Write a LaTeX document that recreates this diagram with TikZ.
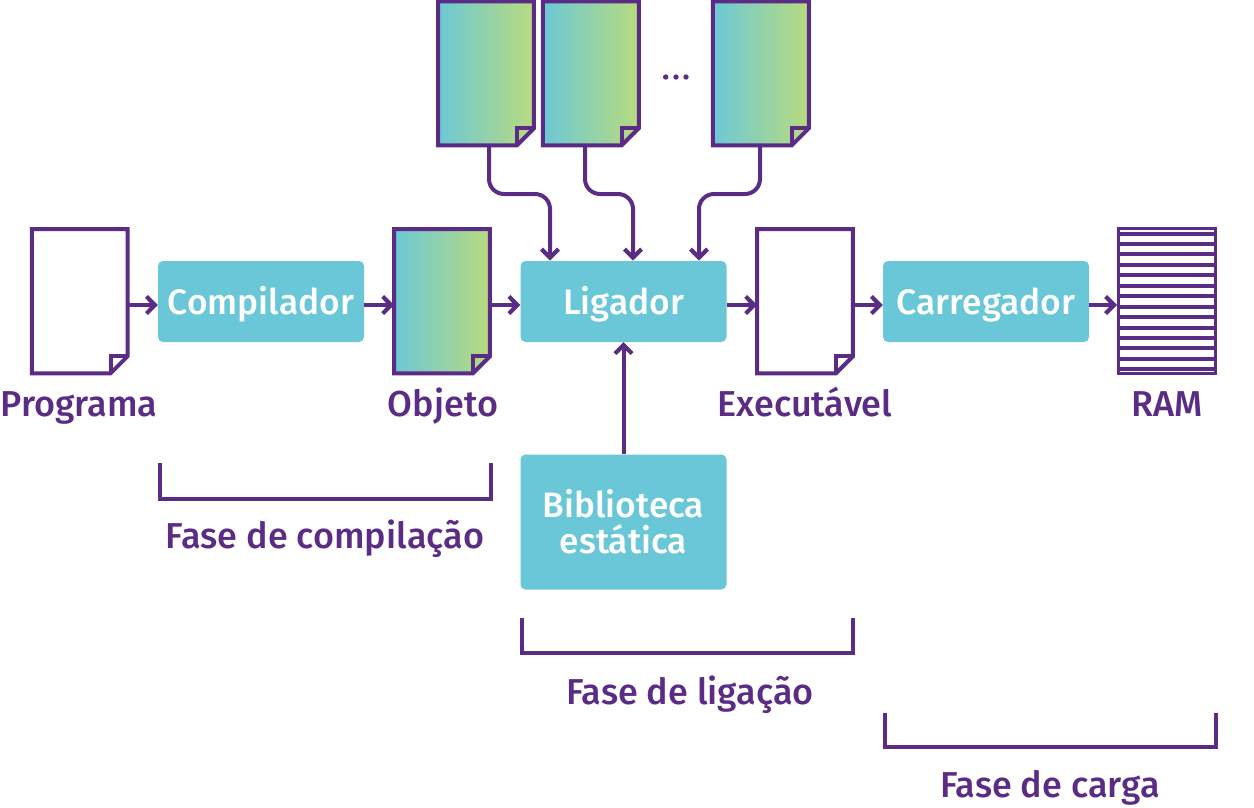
\documentclass[tikz,border=0pt]{standalone}
\usepackage{fontspec}
\setmainfont{Fira Sans Medium}
\usetikzlibrary{arrows.meta,calc}
\definecolor{pur}{HTML}{5B2C86}
\definecolor{box}{HTML}{6AC7D8}
\definecolor{gl}{HTML}{6CC8D6}
\definecolor{gr}{HTML}{B8DB7E}
\pgfdeclarearrow{
  name=Chev,
  setup code={\pgfarrowssettipend{0pt}\pgfarrowssetlineend{-2pt}\pgfarrowssetvisualbackend{-12pt}\pgfarrowssetbackend{-12pt}\pgfarrowsupperhullpoint{-12pt}{10pt}\pgfarrowshullpoint{0pt}{0pt}},
  drawing code={\pgfsetlinewidth{4.2pt}\pgfsetmiterjoin\pgfsetbuttcap\pgfsetdash{}{0pt}\pgfpathmoveto{\pgfpoint{-11.4pt}{8.6pt}}\pgfpathlineto{\pgfpoint{-2.9pt}{0pt}}\pgfpathlineto{\pgfpoint{-11.4pt}{-8.6pt}}\pgfusepathqstroke},
}
\tikzset{
  x=1pt,y=-1pt,
  line/.style={draw=pur,line width=4pt},
  conn/.style={line,-{Chev}},
  bracket/.style={draw=pur,line width=3.6pt},
  procbox/.style={fill=box,rounded corners=5pt,inner sep=0pt,text=white,align=center,font=\fontsize{35.3}{36}\selectfont},
  docframe/.style={inner sep=0pt,minimum width=95.5pt},
  label/.style={text=pur,anchor=base,inner sep=0pt,font=\fontsize{36}{38}\selectfont},
  dotmark/.style={circle,fill=pur,inner sep=0pt,minimum size=5.4pt},
}
% #1 name, #2 centre x, #3 centre y, #4 height, #5 fill options
\newcommand{\docshape}[5]{%
  \node[docframe,minimum height=#4pt] (#1) at (#2,#3) {};
  \path[#5] (#1.north west) -- (#1.north east) -- ($(#1.south east)+(0,-17)$) -- ($(#1.south east)+(-17,0)$) -- (#1.south west) -- cycle;
  \draw[line,line join=miter] (#1.north west) -- (#1.north east) -- ($(#1.south east)+(0,-17)$) -- ($(#1.south east)+(-17,0)$) -- (#1.south west) -- cycle;
  \draw[line,line join=miter] ($(#1.south east)+(-17,0)$) -- ($(#1.south east)+(-17,-17)$) -- ($(#1.south east)+(0,-17)$);
}
\newcommand{\boxtext}[1]{\raisebox{-12.5pt}[0pt][0pt]{#1}}
\begin{document}
\begin{tikzpicture}
\useasboundingbox (0,0) rectangle (1254,807);
\coordinate (row) at (0,305);

\docshape{prog}{79.7}{301.2}{143.7}{fill=white}
\docshape{obj}{442}{301.2}{143.7}{left color=gl,right color=gr}
\docshape{exe}{805}{301.2}{143.7}{fill=white}
\docshape{t1}{486}{73.3}{143.5}{left color=gl,right color=gr}
\docshape{t2}{590.8}{73.3}{143.5}{left color=gl,right color=gr}
\docshape{t3}{760.9}{73.3}{143.5}{left color=gl,right color=gr}

\node[dotmark] (d1) at (665.7,77) {};
\node[dotmark] (d2) at (676,77) {};
\node[dotmark] (d3) at (686,77) {};

\node[procbox,minimum width=206pt,minimum height=81pt] (comp) at (261,301.5) {\boxtext{Compilador}};
\node[procbox,minimum width=206pt,minimum height=81pt] (lig) at (623.5,301.5) {\boxtext{Ligador}};
\node[procbox,minimum width=206pt,minimum height=81pt] (carr) at (986,301.5) {\boxtext{Carregador}};
\node[procbox,minimum width=206pt,minimum height=135pt] (bib) at (623.5,522) {Biblioteca\\estática};

% RAM
\node[inner sep=0pt,minimum width=96.6pt,minimum height=144.6pt,draw=pur,line width=3.4pt] (ram) at (1167,301) {};
\foreach \k in {0,...,13}{
  \draw[draw=pur,line width=4pt] ($(ram.west)+(0,{233.6+10.44*\k-301})$) -- ($(ram.east)+(0,{233.6+10.44*\k-301})$);
}

\draw[conn] (prog.east |- row) -- (comp.west |- row);
\draw[conn] (comp.east |- row) -- (obj.west |- row);
\draw[conn] (obj.east |- row) -- (lig.west |- row);
\draw[conn] (lig.east |- row) -- (exe.west |- row);
\draw[conn] (exe.east |- row) -- (carr.west |- row);
\draw[conn] (carr.east |- row) -- (ram.west |- row);
\draw[conn] (bib.north) -- (lig.south);

\coordinate (a1) at (489,145);
\coordinate (b1) at (550,260.5);
\coordinate (a2) at (585,145);
\coordinate (b2) at (633,260.5);
\coordinate (a3) at (760,145);
\coordinate (b3) at (699,260.5);
\draw[conn,rounded corners=15pt] (a1) -- (489,194) -- (550,194) -- (b1);
\draw[conn,rounded corners=15pt] (a2) -- (585,194) -- (633,194) -- (b2);
\draw[conn,rounded corners=15pt] (a3) -- (760,194) -- (699,194) -- (b3);

\node[label] (l1) at (79,416) {Programa};
\node[label] (l2) at (443,416) {Objeto};
\node[label] (l3) at (805,416) {Executável};
\node[label] (l4) at (1167,416) {RAM};

\coordinate (c1) at (160,463);
\coordinate (c2) at (491,463);
\draw[bracket] (c1) -- (160,499) -- (491,499) -- (c2);
\coordinate (c3) at (522,618);
\coordinate (c4) at (853,618);
\draw[bracket] (c3) -- (522,653) -- (853,653) -- (c4);
\coordinate (c5) at (885,713);
\coordinate (c6) at (1216,713);
\draw[bracket] (c5) -- (885,747) -- (1216,747) -- (c6);

\node[label] (f1) at (325,548) {Fase de compilação};
\node[label] (f2) at (690,704) {Fase de ligação};
\node[label] (f3) at (1050,797) {Fase de carga};
\end{tikzpicture}
\end{document}
